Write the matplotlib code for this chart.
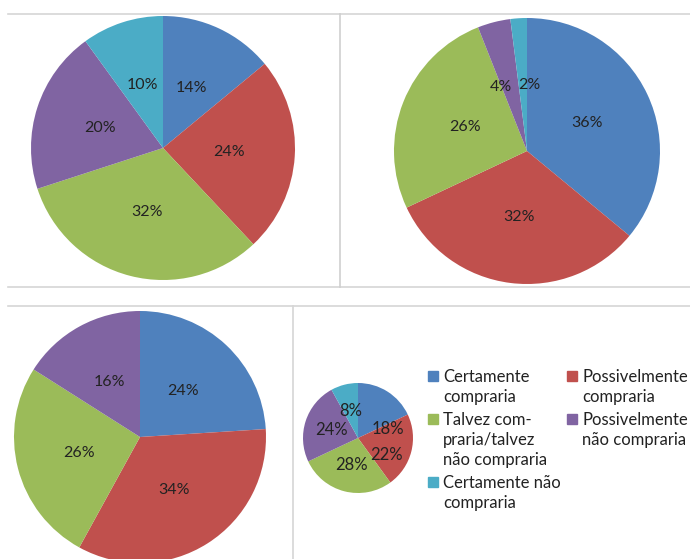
import matplotlib
matplotlib.use("Agg")
import matplotlib.pyplot as plt
from matplotlib.lines import Line2D
from matplotlib.patches import Rectangle

plt.rcParams['font.family'] = ['Lato', 'DejaVu Sans']

# respostas (em %) para cada grupo
categorias = ["Certamente\ncompraria",
              "Possivelmente\ncompraria",
              "Talvez com-\npraria/talvez\nnão compraria",
              "Possivelmente\nnão compraria",
              "Certamente não\ncompraria"]
cores = ["#4F81BD", "#C0504D", "#9BBB59", "#8064A2", "#4BACC6"]

grupo1 = [14, 24, 32, 20, 10]
grupo2 = [36, 32, 26, 4, 2]
grupo3 = [24, 34, 26, 16]
grupo4 = [18, 22, 28, 24, 8]

W, H = 690, 559
fig = plt.figure(figsize=(W / 100, H / 100), dpi=100)
fig.patch.set_facecolor("white")


def px(x, y):
    return x / W, 1 - y / H


def linha(x0, y0, x1, y1, cor="#d6d6d6"):
    a = px(x0, y0)
    b = px(x1, y1)
    fig.add_artist(Line2D([a[0], b[0]], [a[1], b[1]], color=cor, lw=1.2,
                          transform=fig.transFigure))


def pizza(valores, cx, cy, r, tam=11.5, ajustes=None):
    ax = fig.add_axes([(cx - r) / W, 1 - (cy + r) / H, 2 * r / W, 2 * r / H])
    wedges, textos, pct = ax.pie(valores, colors=cores[:len(valores)],
                                 startangle=90, counterclock=False,
                                 autopct=lambda p: "%d%%" % round(p),
                                 pctdistance=0.5, radius=1,
                                 wedgeprops=dict(linewidth=0),
                                 textprops=dict(fontsize=tam, color="#222222"))
    if ajustes:
        for i, (dx, dy) in ajustes.items():
            x, y = pct[i].get_position()
            pct[i].set_position((x + dx, y + dy))
    ax.set_xlim(-1, 1)
    ax.set_ylim(-1, 1)
    ax.axis("off")
    return ax


# molduras dos quadros
linha(8, 13.5, 690, 13.5)
linha(8, 287, 690, 287)
linha(340, 13.5, 340, 287, cor="#cfcfcf")
linha(8, 306, 690, 306)
linha(293, 306, 293, 559)

pizza(grupo1, 163, 148, 132)
pizza(grupo2, 527, 151, 133, ajustes={3: (-0.07, 0), 4: (0.05, 0)})
pizza(grupo3, 140, 437, 126)
pizza(grupo4, 358, 438, 55, tam=12,
      ajustes={0: (0.27, -0.25), 1: (0.04, -0.18)})

# legenda
pos_leg = [(428, 371), (567, 371), (428, 414), (567, 414), (428, 477)]
for cat, cor, (x, y) in zip(categorias, cores, pos_leg):
    x0, y0 = px(x, y + 10)
    fig.add_artist(Rectangle((x0, y0), 10 / W, 10 / H, color=cor,
                             transform=fig.transFigure))
    for k, t in enumerate(cat.split("\n")):
        fig.text(*px(x + 15, y + 11 + 20 * k), t, fontsize=12,
                 color="#222222", va="baseline", ha="left")

fig.savefig("out.png", dpi=100)
